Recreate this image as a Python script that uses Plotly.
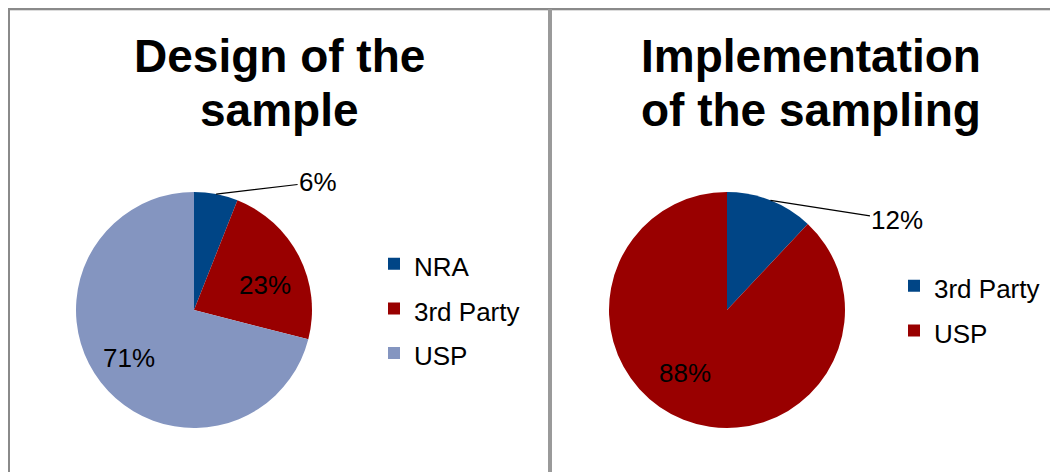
import math
import plotly.graph_objects as go

# ---- data ----
design_labels = ["NRA", "3rd Party", "USP"]
design_values = [6, 23, 71]
impl_labels = ["3rd Party", "USP"]
impl_values = [12, 88]
title_lines = [["Design of the", "sample"], ["Implementation", "of the sampling"]]

# ---- styles / layout ----
BLUE, RED, LILAC = "#004586", "#990000", "#8495C0"
design_colors = [BLUE, RED, LILAC]
impl_colors = [BLUE, RED]
FONT = "Arial, Liberation Sans, sans-serif"

OFF = 8                      # page body margin
W, H = 1058 - OFF, 472 - OFF  # figure size


def px(x):
    return (x - OFF) / W


def py(y):
    return 1 - (y - OFF) / H


R = 118
left_c = (194, 310)
right_c = (727, 310)


def domain(c):
    return dict(x=[px(c[0] - R), px(c[0] + R)], y=[py(c[1] + R), py(c[1] - R)])


def mid_points(values, c, frac):
    tot = sum(values)
    cum = 0
    pts = []
    for v in values:
        th = 2 * math.pi * (cum + v / 2) / tot
        pts.append((c[0] + frac * R * math.sin(th), c[1] - frac * R * math.cos(th)))
        cum += v
    return pts


def legend_text(labels):
    return [f"<span style='font-size:26px'>{l}</span>" for l in labels]


fig = go.Figure()
fig.add_trace(go.Pie(labels=legend_text(design_labels), values=design_values,
                     marker=dict(colors=design_colors, line=dict(width=0)),
                     sort=False, direction="clockwise", rotation=0,
                     textinfo="none", domain=domain(left_c),
                     legend="legend", legendgroup="a"))
fig.add_trace(go.Pie(labels=legend_text(impl_labels), values=impl_values,
                     marker=dict(colors=impl_colors, line=dict(width=0)),
                     sort=False, direction="clockwise", rotation=0,
                     textinfo="none", domain=domain(right_c),
                     legend="legend2", legendgroup="b"))

annotations = []
LBL = dict(family=FONT, size=26, color="black")
outside_offsets = {0: (102, -12), 1: (127, 20)}
# small label nudges (pixels) to mimic the original best-fit placement
nudges = {(0, 1): (2, -10), (0, 2): (-3, 0), (1, 1): (-13, 9)}
for k, (vals, c) in enumerate([(design_values, left_c), (impl_values, right_c)]):
    tot = sum(vals)
    inner = mid_points(vals, c, 0.66)
    edge = mid_points(vals, c, 1.0)
    for i, v in enumerate(vals):
        txt = f"{round(100 * v / tot)}%"
        if v / tot < 0.15:
            ex, ey = edge[i]
            ax, ay = outside_offsets[k]
            annotations.append(dict(x=px(ex), y=py(ey), xref="paper", yref="paper",
                                    text=txt, showarrow=True, arrowhead=0, arrowwidth=1.2,
                                    arrowcolor="black", ax=ax, ay=ay, standoff=0,
                                    xanchor="center", yanchor="middle", font=LBL))
        else:
            x, y = inner[i]
            dx, dy = nudges.get((k, i), (0, 0))
            annotations.append(dict(x=px(x), y=py(y), xref="paper", yref="paper",
                                    text=txt, showarrow=False, xshift=dx, yshift=dy,
                                    xanchor="center", yanchor="middle", font=LBL))

TS = 46
for tx, lines in zip([279, 811], title_lines):
    for yc, line in zip([74 - 0.39 * TS, 128 - 0.39 * TS], lines):
        annotations.append(dict(x=px(tx), y=py(yc), xref="paper", yref="paper",
                                text=line, showarrow=False, xanchor="center", yanchor="middle",
                                font=dict(family=FONT, size=TS, color="black", weight="bold")))

shapes = [
    dict(type="line", xref="paper", yref="paper", x0=0, x1=1, y0=py(9), y1=py(9),
         line=dict(color="#8a8a8a", width=2)),
    dict(type="line", xref="paper", yref="paper", x0=0, x1=1, y0=py(10.5), y1=py(10.5),
         line=dict(color="#dcdcdc", width=1)),
    dict(type="line", xref="paper", yref="paper", x0=px(9), x1=px(9), y0=0, y1=py(9),
         line=dict(color="#8a8a8a", width=2)),
    dict(type="line", xref="paper", yref="paper", x0=px(550), x1=px(550), y0=0, y1=py(9),
         line=dict(color="#9a9a9a", width=4)),
]

leg_common = dict(yanchor="middle", xanchor="left", bgcolor="rgba(0,0,0,0)",
                  font=dict(family=FONT, size=32, color="black"), itemclick=False,
                  itemdoubleclick=False)
fig.update_layout(
    width=W, height=H, autosize=False,
    margin=dict(l=0, r=0, t=0, b=0),
    paper_bgcolor="white", plot_bgcolor="white",
    showlegend=True,
    legend=dict(x=px(374), y=py(308.5), **leg_common),
    legend2=dict(x=px(894), y=py(308.5), **leg_common),
    annotations=annotations, shapes=shapes,
)

fig.write_html("out.html")
